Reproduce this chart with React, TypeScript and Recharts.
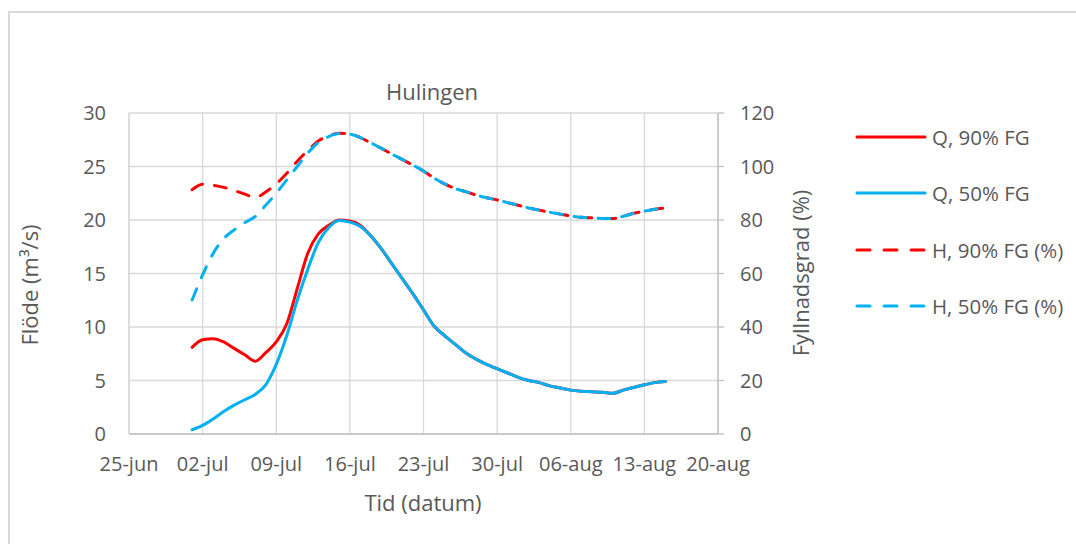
import React from "react";
import {
  LineChart,
  Line,
  XAxis,
  YAxis,
  CartesianGrid,
} from "recharts";

// day 0 = 25-jun
const tickDays = [0, 7, 14, 21, 28, 35, 42, 49, 56];
const tickLabels = ["25-jun", "02-jul", "09-jul", "16-jul", "23-jul", "30-jul", "06-aug", "13-aug", "20-aug"];
const leftTicks = [0, 5, 10, 15, 20, 25, 30];
const rightTicks = [0, 20, 40, 60, 80, 100, 120];

const days = [
  6, 7, 8, 9, 10, 11, 12, 13, 14, 15, 16, 17, 18, 19, 20, 21, 22, 23, 24, 25, 26, 27, 28, 29,
  30, 31, 32, 33, 34, 35, 36, 37, 38, 39, 40, 41, 42, 43, 44, 45, 46, 47, 48, 49, 50, 51,
];

const q90 = [
  8.1, 8.8, 8.9, 8.6, 8.0, 7.4, 6.8, 7.6, 8.6, 10.3, 13.6, 16.9, 18.7, 19.5, 20.0, 19.9, 19.5, 18.5,
  17.3, 15.9, 14.5, 13.1, 11.6, 10.1, 9.2, 8.4, 7.6, 7.0, 6.5, 6.1, 5.7, 5.3, 5.0, 4.8, 4.5, 4.3,
  4.1, 4.0, 3.95, 3.9, 3.8, 4.1, 4.35, 4.6, 4.8, 4.9,
];
const q50 = [
  0.4, 0.8, 1.4, 2.1, 2.7, 3.2, 3.7, 4.6, 6.5, 9.2, 12.5, 15.4, 17.9, 19.3, 19.95, 19.8, 19.4, 18.5,
  17.3, 15.9, 14.5, 13.1, 11.6, 10.1, 9.2, 8.4, 7.6, 7.0, 6.5, 6.1, 5.7, 5.3, 5.0, 4.8, 4.5, 4.3,
  4.1, 4.0, 3.95, 3.9, 3.8, 4.1, 4.35, 4.6, 4.8, 4.9,
];
const h90 = [
  91.3, 93.4, 93.0, 92.2, 91.0, 89.7, 88.4, 90.5, 93.5, 97.5, 102, 106, 109.5, 111.5, 112.4, 112.2,
  110.8, 108.8, 106.8, 104.6, 102.6, 100.5, 98.3, 95.7, 93.5, 91.8, 90.6, 89.3, 88.3, 87.5, 86.5,
  85.5, 84.5, 83.7, 82.9, 82.2, 81.5, 81.0, 80.8, 80.6, 80.6, 81.4, 82.5, 83.3, 84.0, 84.5,
];
const h50 = [
  50.1, 59.5, 67.5, 73, 76.3, 79, 81.3, 85.5, 90, 95, 100, 105, 109, 111.2, 112.3, 112.1,
  110.8, 108.8, 106.8, 104.6, 102.6, 100.5, 98.3, 95.7, 93.5, 91.8, 90.6, 89.3, 88.3, 87.5, 86.5,
  85.5, 84.5, 83.7, 82.9, 82.2, 81.5, 81.0, 80.8, 80.6, 80.6, 81.4, 82.5, 83.3, 84.0, 84.5,
];

const seriesNames = ["Q, 90% FG", "Q, 50% FG", "H, 90% FG (%)", "H, 50% FG (%)"];
const seriesColors = ["#FF0000", "#00B0F0", "#FF0000", "#00B0F0"];
const seriesDashed = [false, false, true, true];

const data = days.map((d, i) => ({ day: d, q90: q90[i], q50: q50[i], h90: h90[i], h50: h50[i] }));

const FONT = "'Open Sans', sans-serif";
const TEXT = "#595959";
const DASH = "12 12";

const App = () => {
  const tickStyle = { fontSize: 20, fill: TEXT, fontFamily: FONT };
  return (
    <div style={{ position: "absolute", left: 0, top: 0, width: 1076, height: 544, background: "#fff", fontFamily: FONT }}>
      {/* outer chart border (top and left only visible) */}
      <div
        style={{
          position: "absolute",
          left: 8,
          top: 11,
          width: 1068,
          height: 533,
          borderTop: "2px solid #D9D9D9",
          borderLeft: "2px solid #D9D9D9",
          boxSizing: "border-box",
        }}
      />
      <div
        style={{
          position: "absolute",
          left: 332,
          top: 75,
          width: 200,
          textAlign: "center",
          fontSize: 22,
          color: TEXT,
          lineHeight: "32px",
        }}
      >
        Hulingen
      </div>
      <div style={{ position: "absolute", left: 0, top: 0 }}>
        <LineChart
          width={1076}
          height={544}
          data={data}
          margin={{ top: 113, right: 258, bottom: 0, left: 0 }}
        >
          <CartesianGrid yAxisId="left" stroke="#D9D9D9" strokeWidth={1.3} />
          <XAxis
            dataKey="day"
            type="number"
            domain={[0, 56]}
            ticks={tickDays}
            tickFormatter={(v: number) => tickLabels[tickDays.indexOf(v)] ?? ""}
            interval={0}
            height={110}
            tickSize={0}
            tickMargin={23}
            tickLine={false}
            axisLine={{ stroke: "#BFBFBF", strokeWidth: 1.3 }}
            tick={tickStyle}
            label={{
              content: () => (
                <text x={423} y={511} textAnchor="middle" fontSize={22} fill={TEXT} fontFamily={FONT}>
                  Tid (datum)
                </text>
              ),
            }}
          />
          <YAxis
            yAxisId="left"
            orientation="left"
            width={129}
            domain={[0, 30]}
            ticks={leftTicks}
            interval={0}
            tickSize={0}
            tickMargin={23}
            tickLine={false}
            axisLine={{ stroke: "#D9D9D9", strokeWidth: 1.3 }}
            tick={tickStyle}
            label={{
              content: () => (
                <text
                  x={29}
                  y={285}
                  transform="rotate(-90 29 285)"
                  textAnchor="middle"
                  dominantBaseline="central"
                  fontSize={22}
                  fill={TEXT}
                  fontFamily={FONT}
                >
                  Flöde (m³/s)
                </text>
              ),
            }}
          />
          <YAxis
            yAxisId="right"
            orientation="right"
            width={100}
            domain={[0, 120]}
            ticks={rightTicks}
            interval={0}
            tickSize={6}
            tickMargin={16}
            tickLine={{ stroke: "#BFBFBF", strokeWidth: 1.3 }}
            axisLine={{ stroke: "#BFBFBF", strokeWidth: 1.3 }}
            tick={tickStyle}
            label={{
              content: () => (
                <text
                  x={800}
                  y={273}
                  transform="rotate(-90 800 273)"
                  textAnchor="middle"
                  dominantBaseline="central"
                  fontSize={22}
                  fill={TEXT}
                  fontFamily={FONT}
                >
                  Fyllnadsgrad (%)
                </text>
              ),
            }}
          />
          <Line yAxisId="left" type="monotone" dataKey="q90" name={seriesNames[0]} stroke={seriesColors[0]} strokeWidth={3} dot={false} isAnimationActive={false} strokeLinecap="round" />
          <Line yAxisId="left" type="monotone" dataKey="q50" name={seriesNames[1]} stroke={seriesColors[1]} strokeWidth={3} dot={false} isAnimationActive={false} strokeLinecap="round" />
          <Line yAxisId="right" type="monotone" dataKey="h90" name={seriesNames[2]} stroke={seriesColors[2]} strokeWidth={3} strokeDasharray={DASH} dot={false} isAnimationActive={false} strokeLinecap="round" />
          <Line yAxisId="right" type="monotone" dataKey="h50" name={seriesNames[3]} stroke={seriesColors[3]} strokeWidth={3} strokeDasharray={DASH} dot={false} isAnimationActive={false} strokeLinecap="round" />
        </LineChart>
      </div>
      {/* legend */}
      <div style={{ position: "absolute", left: 856, top: 109 }}>
        {seriesNames.map((name, i) => (
          <div key={name} style={{ display: "flex", alignItems: "center", height: 56.3 }}>
            <svg width={72} height={10} style={{ marginLeft: -1 }}>
              <line
                x1={2}
                y1={5}
                x2={70}
                y2={5}
                stroke={seriesColors[i]}
                strokeWidth={3}
                strokeLinecap="round"
                strokeDasharray={seriesDashed[i] ? "13 14" : undefined}
              />
            </svg>
            <span style={{ fontSize: 20.5, color: TEXT, marginLeft: 5, whiteSpace: "nowrap" }}>{name}</span>
          </div>
        ))}
      </div>
    </div>
  );
};

export default App;
